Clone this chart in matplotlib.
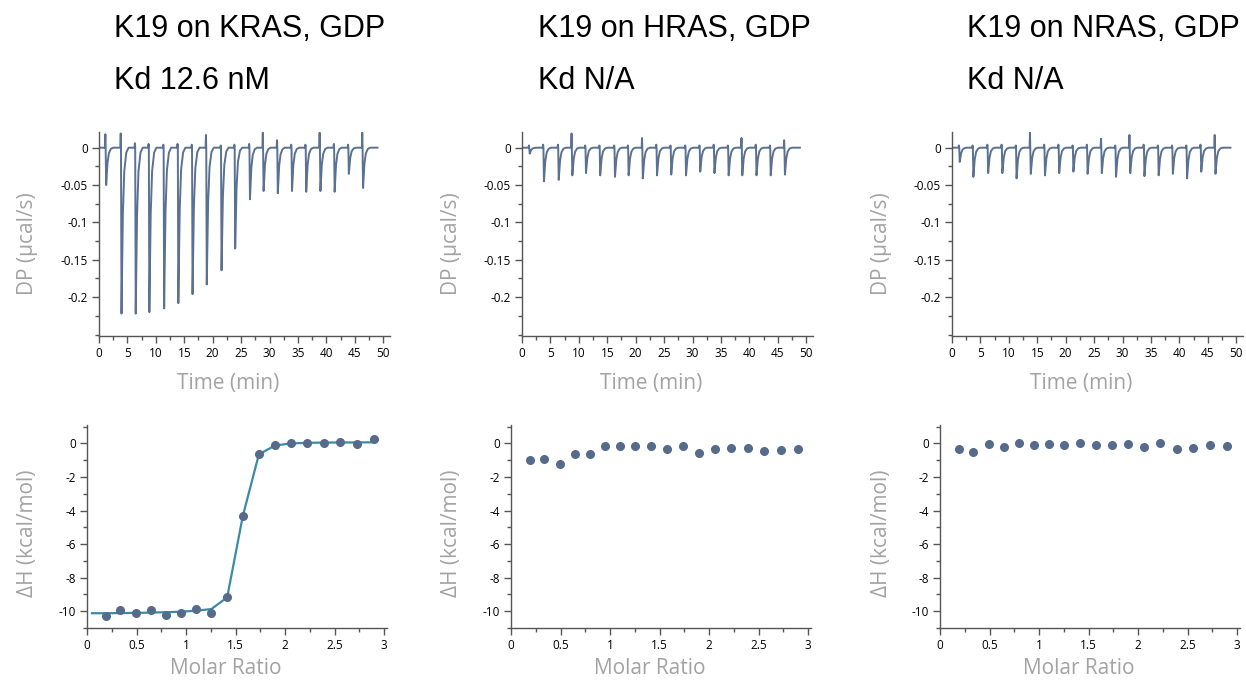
import numpy as np
import matplotlib
matplotlib.use('Agg')
import matplotlib.pyplot as plt
from matplotlib.ticker import MultipleLocator

W, H = 1246, 686

# ---- data ----
titles = ['K19 on KRAS, GDP', 'K19 on HRAS, GDP', 'K19 on NRAS, GDP']
kd_labels = ['Kd 12.6 nM', 'Kd N/A', 'Kd N/A']

# injection times (min) for each thermogram
inj_kras = [1.2, 3.9, 6.4, 8.8, 11.4, 13.9, 16.4, 18.9, 21.5, 23.9,
            26.5, 28.9, 31.4, 33.9, 36.4, 38.9, 41.4, 43.9, 46.4]
inj_hras = [1.3, 3.8, 6.4, 8.8, 11.2, 13.7, 16.3, 18.7, 21.2, 23.7,
            26.2, 28.8, 31.3, 33.8, 36.3, 38.7, 41.2, 43.7, 46.2]
inj_nras = [1.3, 3.7, 6.3, 8.8, 11.3, 13.8, 16.3, 18.8, 21.3, 23.8,
            26.3, 28.8, 31.3, 33.8, 36.3, 38.8, 41.3, 43.8, 46.3]

# peak depth (ucal/s)
dip_kras = [-0.050, -0.222, -0.222, -0.220, -0.215, -0.208, -0.196, -0.183, -0.164, -0.135,
            -0.069, -0.058, -0.061, -0.058, -0.059, -0.058, -0.059, -0.035, -0.054]
dip_hras = [-0.008, -0.045, -0.043, -0.037, -0.034, -0.037, -0.039, -0.037, -0.041, -0.037,
            -0.036, -0.037, -0.032, -0.034, -0.037, -0.037, -0.037, -0.037, -0.036]
dip_nras = [-0.019, -0.039, -0.034, -0.034, -0.041, -0.035, -0.037, -0.034, -0.032, -0.035,
            -0.034, -0.039, -0.034, -0.038, -0.037, -0.035, -0.041, -0.032, -0.035]

# small upward spike at each injection (ucal/s)
up_kras = [0.018, 0.019, 0.006, 0.005, 0.004, 0.005, 0.004, 0.017, 0.003, 0.004,
           0.005, 0.020, 0.010, 0.004, 0.004, 0.020, 0.005, 0.004, 0.020]
up_hras = [0.003, 0.004, 0.004, 0.019, 0.003, 0.003, 0.003, 0.003, 0.013, 0.004,
           0.003, 0.003, 0.003, 0.004, 0.003, 0.013, 0.004, 0.003, 0.010]
up_nras = [0.003, 0.003, 0.004, 0.004, 0.003, 0.020, 0.004, 0.004, 0.003, 0.004,
           0.012, 0.003, 0.017, 0.004, 0.003, 0.003, 0.003, 0.004, 0.017]
run_end = [49.0, 48.9, 49.0]

# integrated heats
molar_ratio = [0.189, 0.338, 0.49, 0.642, 0.794, 0.946, 1.10, 1.257, 1.416, 1.574,
               1.736, 1.899, 2.06, 2.226, 2.39, 2.557, 2.726, 2.90]
dh_kras = [-10.28, -9.90, -10.08, -9.94, -10.22, -10.10, -9.86, -10.10, -9.17, -4.32,
           -0.65, -0.12, 0.02, 0.04, 0.00, 0.06, -0.04, 0.26]
dh_hras = [-0.97, -0.91, -1.22, -0.65, -0.65, -0.16, -0.18, -0.18, -0.18, -0.36,
           -0.14, -0.55, -0.34, -0.28, -0.30, -0.45, -0.37, -0.36]
dh_nras = [-0.32, -0.51, -0.06, -0.20, 0.02, -0.08, -0.02, -0.10, 0.02, -0.12,
           -0.12, -0.02, -0.20, 0.04, -0.34, -0.28, -0.08, -0.14]

fit_x = [0.05, 0.189, 0.338, 0.49, 0.642, 0.794, 0.946, 1.10, 1.257, 1.416,
         1.574, 1.736, 1.899, 2.06, 2.226, 2.39, 2.557, 2.726, 2.90]
fit_kras = [-10.12, -10.12, -10.11, -10.10, -10.08, -10.06, -10.03, -9.97, -9.87, -9.17,
            -4.32, -0.65, -0.12, 0.00, 0.04, 0.05, 0.06, 0.06, 0.07]

TRACE = '#5b7191'
DOT = '#566b8a'
FIT = '#3b8aa6'
GREY = '#a3a3a3'
SPINE = '#555555'


def trace(inj, dip, up, end):
    # build the raw power trace: spike, sharp dip, quick recovery
    xs, ys = [0.0], [0.0]
    for t, d, u in zip(inj, dip, up):
        xs += [t - 0.15, t - 0.08, t - 0.03, t + 0.06, t + 0.3, t + 0.55, t + 0.9, t + 1.3]
        ys += [0.0, u, 0.0, d, d * 0.4, d * 0.14, d * 0.03, 0.0]
    xs.append(end)
    ys.append(0.0)
    return xs, ys


def px_rect(l, t, r, b):
    return [l / W, 1 - b / H, (r - l) / W, (b - t) / H]


def style(ax):
    for s in ['top', 'right']:
        ax.spines[s].set_visible(False)
    for s in ['left', 'bottom']:
        ax.spines[s].set_color(SPINE)
        ax.spines[s].set_linewidth(1.0)
    ax.tick_params(which='major', length=5, width=1, color=SPINE, labelsize=8.5, pad=3)
    ax.tick_params(which='minor', length=3, width=1, color=SPINE)


plt.rcParams['font.family'] = ['Open Sans', 'DejaVu Sans']
plt.rcParams['axes.unicode_minus'] = False
fig = plt.figure(figsize=(W / 100, H / 100), dpi=100)

top_lefts = [99, 522, 952]
bot_lefts = [87, 511, 940]
title_x = [114, 538, 967]
traces = [(inj_kras, dip_kras, up_kras), (inj_hras, dip_hras, up_hras), (inj_nras, dip_nras, up_nras)]
heats = [dh_kras, dh_hras, dh_nras]

for i in range(3):
    fig.text(title_x[i] / W, 1 - 37 / H, titles[i], fontsize=22, family='Liberation Sans',
             ha='left', va='baseline')
    fig.text(title_x[i] / W, 1 - 89 / H, kd_labels[i], fontsize=22, family='Liberation Sans',
             ha='left', va='baseline')

    # thermogram
    ax = fig.add_axes(px_rect(top_lefts[i], 132, top_lefts[i] + 291, 336))
    xs, ys = trace(*traces[i], run_end[i])
    ax.plot(xs, ys, color=TRACE, lw=1.4)
    ax.set_xlim(0, 51.2)
    ax.set_ylim(-0.252, 0.021)
    ax.xaxis.set_major_locator(MultipleLocator(5))
    ax.xaxis.set_minor_locator(MultipleLocator(2.5))
    ax.set_yticks([0, -0.05, -0.1, -0.15, -0.2])
    ax.set_yticklabels(['0', '-0.05', '-0.1', '-0.15', '-0.2'])
    ax.yaxis.set_minor_locator(MultipleLocator(0.025))
    style(ax)
    fig.text((top_lefts[i] - 71) / W, 1 - 244 / H, 'DP (\u00b5cal/s)', rotation=90,
             fontsize=15, color=GREY, ha='center', va='center')
    fig.text((top_lefts[i] + 129) / W, 1 - 383 / H, 'Time (min)',
             fontsize=15, color=GREY, ha='center', va='center')

    # integrated heats
    ax2 = fig.add_axes(px_rect(bot_lefts[i], 425, bot_lefts[i] + 300, 628))
    if i == 0:
        ax2.plot(fit_x, fit_kras, color=FIT, lw=1.6, zorder=2)
    ax2.plot(molar_ratio, heats[i], 'o', color=DOT, ms=5.5, zorder=3)
    ax2.set_xlim(0, 3.03)
    ax2.set_ylim(-11, 1.1)
    ax2.set_xticks([0, 0.5, 1, 1.5, 2, 2.5, 3])
    ax2.set_xticklabels(['0', '0.5', '1', '1.5', '2', '2.5', '3'])
    ax2.xaxis.set_minor_locator(MultipleLocator(0.25))
    ax2.set_yticks([0, -2, -4, -6, -8, -10])
    ax2.yaxis.set_minor_locator(MultipleLocator(1))
    style(ax2)
    fig.text((bot_lefts[i] - 59) / W, 1 - 533 / H, '\u0394H (kcal/mol)', rotation=90,
             fontsize=15, color=GREY, ha='center', va='center')
    fig.text((bot_lefts[i] + 139) / W, 1 - 668 / H, 'Molar Ratio',
             fontsize=15, color=GREY, ha='center', va='center')

fig.savefig('out.png', dpi=100)
